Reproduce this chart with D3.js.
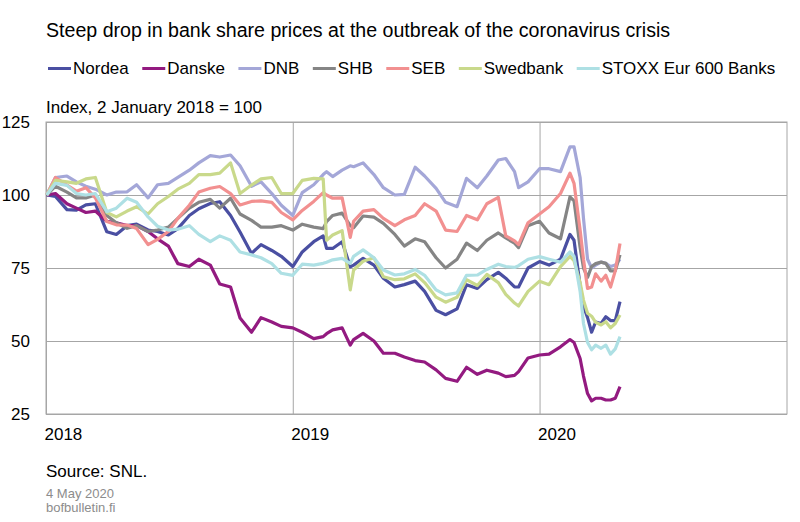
<!DOCTYPE html>
<html>
<head>
<meta charset="utf-8">
<script src="https://cdn.jsdelivr.net/npm/d3@7"></script>
<style>
body { margin: 0; background: #fff; }
svg text { font-family: "Liberation Sans", Arial, sans-serif; fill: #000; }
</style>
</head>
<body>
<div class="gv-chart"></div>
<script>
// sample dates (every half month, denser in the crash)
const dates = [
  "2018-01-02","2018-01-15","2018-02-01","2018-02-15","2018-03-01","2018-03-15","2018-04-01","2018-04-15",
  "2018-05-01","2018-05-15","2018-06-01","2018-06-15","2018-07-01","2018-07-15","2018-08-01","2018-08-15",
  "2018-09-01","2018-09-15","2018-10-01","2018-10-15","2018-11-01","2018-11-15","2018-12-01","2018-12-15",
  "2019-01-01","2019-01-15","2019-02-01","2019-02-15","2019-02-20","2019-03-01","2019-03-15","2019-03-27",
  "2019-04-01","2019-04-15","2019-05-01","2019-05-15","2019-06-01","2019-06-15","2019-07-01","2019-07-15",
  "2019-08-01","2019-08-15","2019-09-01","2019-09-15","2019-10-01","2019-10-15","2019-11-01","2019-11-12",
  "2019-11-25","2019-12-01","2019-12-15",
  "2020-01-01","2020-01-15","2020-02-01","2020-02-15","2020-02-21","2020-03-01","2020-03-06","2020-03-12",
  "2020-03-18","2020-03-24","2020-04-01","2020-04-08","2020-04-15","2020-04-22","2020-04-29"
];

const nordea = [100, 99.5, 95, 94.8, 96.6, 97, 87.4, 86.5, 89.5, 90, 88, 87.5, 86.3, 88.5, 93, 95.3, 97.1, 97.7, 93, 87.3, 80, 83, 81, 79,
  75.5, 80.5, 84, 86, 81.7, 81.7, 84, 75.4, 76, 78.3, 76, 71.5, 68.5, 69.3, 70.5, 67, 60.5, 59, 61, 69.3, 68, 71, 73.5, 71.5, 68.5, 68.5, 75,
  77.2, 76, 78, 86.5, 84.5, 69, 62, 58, 53, 56.5, 56, 58.3, 57, 57, 63.5];
const danske = [100, 100.5, 97, 95.5, 94, 94.5, 91, 90.5, 89.5, 89.5, 87.5, 85, 82.5, 76.5, 75.5, 78, 76, 69.5, 68.5, 57.9, 53, 58, 56.5, 55,
  54.5, 53, 50.8, 51.5, 52.5, 53.8, 54.5, 48.6, 50.5, 52.6, 50, 45.8, 45.8, 44.5, 43.3, 42.8, 40.1, 37.2, 36.2, 41, 38.6, 40, 39, 37.8, 38.2, 39.5, 44.2,
  45.2, 45.5, 48, 50.5, 49.5, 44, 38, 32, 29.5, 30.4, 30.4, 29.8, 29.8, 30.4, 34.4];
const dnb = [100, 106, 106.5, 104.5, 103, 102, 100, 101, 101.1, 103.5, 99, 103.5, 104, 106, 108.5, 111, 113.5, 113, 113.7, 110, 103, 104.5, 100.5, 96.5,
  93, 100.8, 103.5, 107, 108, 106.3, 108.5, 110, 109.7, 111, 107, 102.5, 100, 100.2, 109.5, 106.5, 102.3, 97.5, 96, 105.7, 102.5, 106.5, 112, 112.5, 108, 102.5, 104.5,
  109, 109, 108, 116.5, 116.5, 106, 92, 78, 75, 76, 77, 76.6, 75.5, 76, 78];
const shb = [100, 103, 101, 99, 99, 100, 93, 90.5, 88.6, 89.5, 87.5, 88, 89, 92, 95.5, 97.5, 98.5, 95.5, 98.9, 93.5, 91.3, 89, 89, 89.5,
  88, 90, 89, 88.5, 90.9, 93, 93.8, 89.5, 88.8, 92.8, 92.4, 90.3, 86.5, 82.5, 85, 84, 78.5, 75, 78, 83.5, 81, 84.5, 87, 85.3, 83.5, 82, 89.5,
  91, 87, 85, 99.4, 98, 82, 75, 71.8, 75.5, 76.5, 77, 76.6, 74, 74, 79.5];
const seb = [100, 106, 103.4, 101.3, 102.5, 99, 90.9, 89.8, 89.7, 88.5, 83, 84.8, 87.5, 92, 96.5, 101, 102.3, 102.9, 100.5, 96.6, 97.8, 98, 97.5, 94,
  91.5, 94.7, 97.8, 100.8, 100, 98.9, 99, 85.5, 91, 94.5, 95, 92, 89.5, 91.5, 93, 97, 94.5, 88, 87.5, 93, 91.5, 97, 99.2, 86, 84.3, 83, 90.5,
  93.5, 96, 100.5, 107.5, 104, 88, 78, 68, 68.5, 73, 70.5, 72.5, 68.5, 74, 83.4];
const swedbank = [100, 105, 104.5, 104, 105.5, 106, 94, 92.5, 94.5, 96, 93.5, 97, 99.5, 102, 104, 107, 107, 107.5, 111, 100.5, 103.4, 105.5, 106, 100.5,
  100.5, 105, 105.7, 105.5, 84.5, 86.3, 87.8, 67.5, 74.3, 77.3, 78.5, 72, 71, 71.3, 73, 70, 65, 63.3, 65, 71, 69, 72.8, 70, 66, 63, 62, 67,
  70.5, 69.3, 75.5, 79, 77.5, 70, 64, 59.5, 58.5, 56.4, 55.5, 56.6, 54.5, 56, 58.9];
const stoxx = [100, 104, 103.3, 100.5, 100, 100.5, 94.3, 95.5, 98.9, 97.5, 92.5, 89.3, 88, 88.3, 89.5, 86.5, 84, 86, 84.5, 80.5, 79.5, 78.5, 76.5, 73.2,
  72.5, 76.3, 76, 76.6, 77, 77.8, 78.3, 76.6, 79, 81.2, 78.5, 74.3, 72.6, 73, 74.5, 72.5, 67.5, 65.8, 66.5, 72.5, 72.6, 74.5, 76.3, 75.5, 75.2, 75.8, 78,
  78.9, 78, 77, 80.5, 79, 67, 56, 49.5, 47, 48.6, 47.5, 48.6, 45.5, 47.3, 51.5];

const names = ["Nordea", "Danske", "DNB", "SHB", "SEB", "Swedbank", "STOXX Eur 600 Banks"];
const colours = ["#4a4fa2", "#931a80", "#a4a7d8", "#858585", "#f29090", "#c9d98b", "#aee0e4"];
const yTicks = [25, 50, 75, 100, 125];
const xTicks = ["2018-01-01", "2019-01-01", "2020-01-01"];

var parse = d3.timeParse("%Y-%m-%d")
var series = [nordea, danske, dnb, shb, seb, swedbank, stoxx]
var days = dates.map(parse)

var svg = d3.select(".gv-chart").append("svg")
  .attr("width", 800)
  .attr("height", 522)

var plotL = 46, plotR = 787, plotT = 122, plotB = 414

var x = d3.scaleTime()
  .domain([parse("2018-01-01"), parse("2021-01-01")])
  .range([plotL, plotR])

var y = d3.scaleLinear()
  .domain([25, 125])
  .range([plotB, plotT])

// gridlines + labels via the axes
var yAxis = svg.append("g")
  .attr("transform", `translate(${plotL},0)`)
  .call(d3.axisLeft(y).tickValues(yTicks).tickSize(-(plotR - plotL)).tickPadding(16))
yAxis.select(".domain").remove()
yAxis.selectAll("line").attr("stroke", "#a6a6a6")
yAxis.selectAll("text").attr("font-size", "17px").style("font-family", "Liberation Sans, Arial, sans-serif")

var xAxis = svg.append("g")
  .attr("transform", `translate(0,${plotB})`)
  .call(d3.axisBottom(x).tickValues(xTicks.map(parse)).tickSize(-(plotB - plotT)).tickFormat(d3.timeFormat("%Y")))
xAxis.select(".domain").remove()
xAxis.selectAll("line").attr("stroke", "#a6a6a6")
xAxis.selectAll("text")
  .attr("text-anchor", "start")
  .attr("x", -2)
  .attr("y", 26)
  .attr("dy", 0)
  .attr("font-size", "17px")
  .style("font-family", "Liberation Sans, Arial, sans-serif")

svg.append("rect")
  .attr("x", plotL)
  .attr("y", plotT)
  .attr("width", plotR - plotL)
  .attr("height", plotB - plotT)
  .attr("fill", "none")
  .attr("stroke", "#a6a6a6")

var line = d3.line()
  .x((d, i) => x(days[i]))
  .y(d => y(d))

svg.append("g").selectAll("path.bank")
  .data(series)
  .enter()
  .append("path")
  .attr("class", "bank")
  .attr("d", line)
  .attr("fill", "none")
  .attr("stroke", (d, i) => colours[i])
  .attr("stroke-width", 3.2)
  .attr("stroke-linejoin", "round")

// texts
svg.append("text")
  .attr("x", 46)
  .attr("y", 36.5)
  .attr("font-size", "19.6px")
  .text("Steep drop in bank share prices at the outbreak of the coronavirus crisis")

svg.append("text")
  .attr("x", 46)
  .attr("y", 113)
  .attr("font-size", "17px")
  .text("Index, 2 January 2018 = 100")

svg.append("text")
  .attr("x", 46)
  .attr("y", 477)
  .attr("font-size", "17px")
  .text("Source: SNL.")

svg.append("text")
  .attr("x", 46)
  .attr("y", 498)
  .attr("font-size", "13px")
  .style("fill", "#8c8c8c")
  .text("4 May 2020")

svg.append("text")
  .attr("x", 46)
  .attr("y", 512)
  .attr("font-size", "13px")
  .style("fill", "#8c8c8c")
  .text("bofbulletin.fi")

// legend
var legend = svg.append("g")
var lx = 48
names.forEach((n, i) => {
  legend.append("line")
    .attr("x1", lx)
    .attr("x2", lx + 23)
    .attr("y1", 68.5)
    .attr("y2", 68.5)
    .attr("stroke", colours[i])
    .attr("stroke-width", 3)
  var t = legend.append("text")
    .attr("x", lx + 25)
    .attr("y", 74)
    .attr("font-size", "17px")
    .text(n)
  lx = lx + 25 + t.node().getComputedTextLength() + 13.5
})
</script>
</body>
</html>
